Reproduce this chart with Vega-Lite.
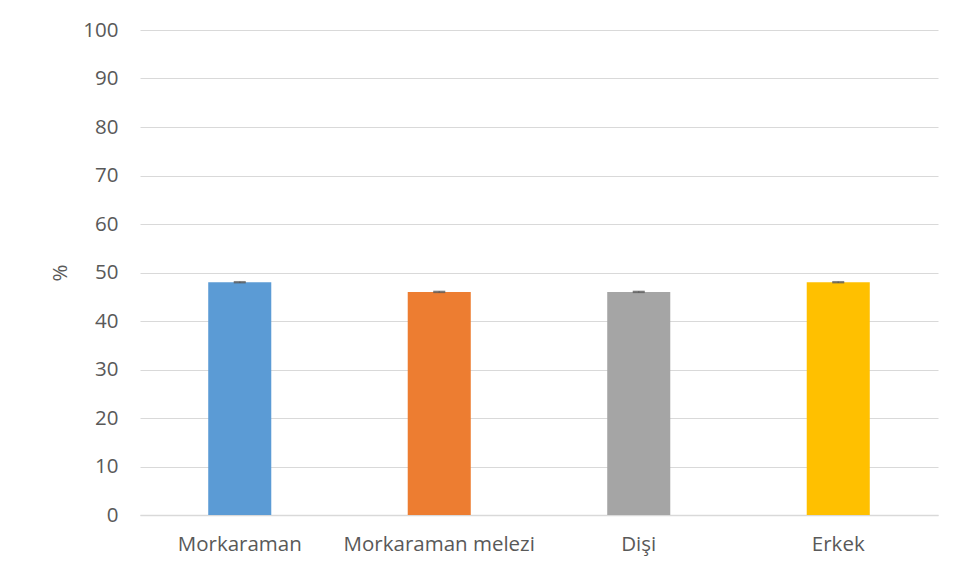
{
  "$schema": "https://vega.github.io/schema/vega-lite/v6.json",
  "width": 798,
  "height": 485,
  "autosize": {"type": "none"},
  "padding": {"left": 140, "top": 30, "right": 26, "bottom": 63},
  "background": "white",
  "config": {
    "view": {"stroke": null},
    "font": "Open Sans",
    "axis": {"labelFont": "Open Sans", "titleFont": "Open Sans", "labelColor": "#595959", "titleColor": "#595959", "labelFontSize": 20.5, "titleFontSize": 20.5, "titleFontWeight": "normal", "labelLimit": 400}
  },
  "data": {
    "values": [
      {"kategori": "Morkaraman", "deger": 48.0, "alt": 47.9, "ust": 48.1},
      {"kategori": "Morkaraman melezi", "deger": 46.0, "alt": 45.9, "ust": 46.1},
      {"kategori": "Dişi", "deger": 46.0, "alt": 45.9, "ust": 46.1},
      {"kategori": "Erkek", "deger": 48.0, "alt": 47.9, "ust": 48.1}
    ]
  },
  "encoding": {
    "x": {
      "field": "kategori", "type": "nominal", "sort": null,
      "scale": {"paddingInner": 0.684, "paddingOuter": 0.342},
      "axis": {"title": null, "labelAngle": 0, "ticks": false, "domainColor": "#d9d9d9", "domainWidth": 1.5, "labelPadding": 19, "grid": false, "labelLimit": 400, "labelOverlap": false}
    }
  },
  "layer": [
    {
      "mark": {"type": "bar"},
      "encoding": {
        "y": {
          "field": "deger", "type": "quantitative",
          "scale": {"domain": [0, 100]},
          "axis": {"title": "%", "values": [0,10,20,30,40,50,60,70,80,90,100], "domain": false, "ticks": false, "gridColor": "#d9d9d9", "gridWidth": 1, "labelPadding": 22, "titlePadding": 12}
        },
        "color": {
          "field": "kategori", "type": "nominal", "sort": null, "legend": null,
          "scale": {"domain": ["Morkaraman", "Morkaraman melezi", "Dişi", "Erkek"], "range": ["#5B9BD5", "#ED7D31", "#A5A5A5", "#FFC000"]}
        }
      }
    },
    {
      "mark": {"type": "rule", "color": "#595959", "strokeWidth": 1.5},
      "encoding": {
        "y": {"field": "alt", "type": "quantitative"},
        "y2": {"field": "ust"}
      }
    },
    {
      "mark": {"type": "tick", "color": "#595959", "size": 12, "thickness": 1.5},
      "encoding": {
        "y": {"field": "alt", "type": "quantitative"}
      }
    },
    {
      "mark": {"type": "tick", "color": "#595959", "size": 12, "thickness": 1.5},
      "encoding": {
        "y": {"field": "ust", "type": "quantitative"}
      }
    }
  ]
}
